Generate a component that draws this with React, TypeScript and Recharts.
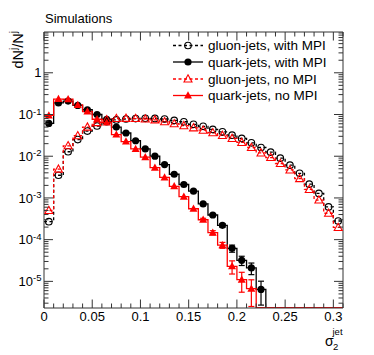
import React from 'react';
import { ComposedChart, Line, Scatter, XAxis, YAxis, ErrorBar, Legend } from 'recharts';

const W = 374;
const H = 355;
const PLOT = { left: 44, top: 32, right: 343, bottom: 308 };
const X_DOMAIN: [number, number] = [0, 0.31];
const Y_DOMAIN: [number, number] = [2.3e-6, 9.5];
const FONT = '"Liberation Sans", Arial, Helvetica, sans-serif';
const AXIS = '#333';
const RED = '#ff0000';

// bin width 0.01, centres of the 31 bins
const binWidth = 0.01;
const binCenters = [
  0.005, 0.015, 0.025, 0.035, 0.045, 0.055, 0.065, 0.075, 0.085, 0.095,
  0.105, 0.115, 0.125, 0.135, 0.145, 0.155, 0.165, 0.175, 0.185, 0.195,
  0.205, 0.215, 0.225, 0.235, 0.245, 0.255, 0.265, 0.275, 0.285, 0.295, 0.305,
];

const gluonWithMpi = [
  2.7e-4, 3.5e-3, 1.28e-2, 2.5e-2, 4.0e-2, 5.3e-2, 6.7e-2, 7.4e-2, 7.8e-2, 8.0e-2,
  8.1e-2, 8.05e-2, 7.8e-2, 7.2e-2, 6.7e-2, 5.8e-2, 5.2e-2, 4.4e-2, 3.85e-2, 3.2e-2,
  2.67e-2, 2.1e-2, 1.62e-2, 1.25e-2, 9.0e-3, 6.1e-3, 3.9e-3, 2.14e-3, 1.28e-3, 6.1e-4, 2.8e-4,
];
const quarkWithMpi = [
  0.061, 0.19, 0.21, 0.165, 0.13, 0.1, 0.077, 0.05, 0.036, 0.0235,
  0.015, 0.01, 0.0063, 0.0037, 0.0021, 0.00145, 7.2e-4, 3.9e-4, 2.2e-4, 6.2e-5,
  3.2e-5, 2.1e-5, 6.4e-6, 0, 0, 0, 0, 0, 0, 0, 0,
];
const gluonNoMpi = [
  5.0e-4, 4.9e-3, 1.78e-2, 3.1e-2, 5.0e-2, 6.4e-2, 7.5e-2, 8.0e-2, 8.1e-2, 8.0e-2,
  7.8e-2, 7.45e-2, 6.7e-2, 6.0e-2, 5.4e-2, 4.8e-2, 4.2e-2, 3.65e-2, 3.15e-2, 2.67e-2,
  2.14e-2, 1.62e-2, 1.2e-2, 9.3e-3, 6.7e-3, 4.7e-3, 2.9e-3, 1.6e-3, 8.9e-4, 4.3e-4, 1.96e-4,
];
const quarkNoMpi = [
  0.095, 0.235, 0.232, 0.17, 0.118, 0.077, 0.064, 0.033, 0.0225, 0.015,
  0.0095, 0.0053, 0.0031, 0.0019, 0.00107, 5.5e-4, 3.0e-4, 1.47e-4, 7.4e-5, 2.3e-5,
  1.1e-5, 6.7e-6, 0, 0, 0, 0, 0, 0, 0, 0, 0,
];
// statistical errors, only visible in the quark tails
const quarkWithMpiErr = [
  0, 0, 0, 0, 0, 0, 0, 0, 0, 0,
  0, 0, 0, 0, 0, 0, 4e-5, 3e-5, 2.2e-5, 1.2e-5,
  0.8e-5, 0.65e-5, 0.37e-5, 0, 0, 0, 0, 0, 0, 0, 0,
];
const quarkNoMpiErr = [
  0, 0, 0, 0, 0, 0, 0, 0, 0, 0,
  0, 0, 0, 0, 0, 0, 2.5e-5, 1.7e-5, 1.2e-5, 0.8e-5,
  0.55e-5, 0.42e-5, 0, 0, 0, 0, 0, 0, 0, 0, 0,
];

const xMajorTicks = [0, 0.05, 0.1, 0.15, 0.2, 0.25, 0.3];
const xTickLabels = ['0', '0.05', '0.1', '0.15', '0.2', '0.25', '0.3'];
const yMajorTicks = [1e-5, 1e-4, 1e-3, 1e-2, 1e-1, 1];
const yTickExponents = ['-5', '-4', '-3', '-2', '-1', ''];

const legendLabels = [
  'gluon-jets, with MPI',
  'quark-jets, with MPI',
  'gluon-jets, no MPI',
  'quark-jets, no MPI',
];

// minor + major tick positions
const xTicks = Array.from({ length: 32 }, (_, i) => i / 100);
const yTicks: number[] = [];
for (let d = -6; d <= 0; d++) {
  for (let n = 1; n <= 9; n++) {
    const v = n * Math.pow(10, d);
    if (v >= Y_DOMAIN[0] && v <= Y_DOMAIN[1]) yTicks.push(v);
  }
}

// histogram outline: points on the low bin edges, drawn with stepAfter.
// empty bins sit on the frame (floor) or just below it (clipped away)
const histLine = (vals: number[], floor: number) => {
  const pts = vals.map((v, i) => ({ x: binCenters[i] - binWidth / 2, y: v > 0 ? v : floor }));
  pts.push({ x: binCenters[vals.length - 1] + binWidth / 2, y: pts[pts.length - 1].y });
  return pts;
};
const markers = (vals: number[], errs?: number[]) =>
  vals
    .map((v, i) => ({ x: binCenters[i], y: v, err: errs ? errs[i] : 0 }))
    .filter((p) => p.y > 0);

const triPath = (cx: number, cy: number, s: number) =>
  `M${cx},${cy - s}L${cx + s * 0.95},${cy + s * 0.72}L${cx - s * 0.95},${cy + s * 0.72}Z`;

const OpenCircle = ({ cx, cy }: any) => (
  <circle cx={cx} cy={cy} r={3.3} fill="none" stroke="#000" strokeWidth={1.1} />
);
const FullCircle = ({ cx, cy }: any) => <circle cx={cx} cy={cy} r={3.6} fill="#000" />;
const OpenTriangle = ({ cx, cy }: any) => (
  <path d={triPath(cx, cy, 4.2)} fill="none" stroke={RED} strokeWidth={1.1} />
);
const FullTriangle = ({ cx, cy }: any) => <path d={triPath(cx, cy, 4.2)} fill={RED} />;

const isMajor = (list: number[], v: number) => list.findIndex((t) => Math.abs(t - v) <= t * 1e-6 + 1e-12);

function XTickBottom({ x, payload }: any) {
  const mi = isMajor(xMajorTicks, payload.value);
  const len = mi >= 0 ? 8.5 : 4.5;
  const y = PLOT.bottom;
  return (
    <g>
      <line x1={x} x2={x} y1={y} y2={y - len} stroke={AXIS} />
      {mi >= 0 && (
        <text x={x} y={y + 12.8} textAnchor="middle" fontFamily={FONT} fontSize={13} fill="#000">
          {xTickLabels[mi]}
        </text>
      )}
    </g>
  );
}
function XTickTop({ x, payload }: any) {
  const len = isMajor(xMajorTicks, payload.value) >= 0 ? 8.5 : 4.5;
  return <line x1={x} x2={x} y1={PLOT.top} y2={PLOT.top + len} stroke={AXIS} />;
}
function YTickLeft({ y, payload }: any) {
  const mi = isMajor(yMajorTicks, payload.value);
  const len = mi >= 0 ? 9 : 4.5;
  const x = PLOT.left;
  return (
    <g>
      <line x1={x} x2={x + len} y1={y} y2={y} stroke={AXIS} />
      {mi >= 0 && (
        <text x={x - 2.5} y={y + 4.6} textAnchor="end" fontFamily={FONT} fontSize={13} fill="#000">
          {yTickExponents[mi] === '' ? (
            '1'
          ) : (
            <>
              <tspan>10</tspan>
              <tspan dy={-4.5} fontSize={9.5}>
                {yTickExponents[mi]}
              </tspan>
            </>
          )}
        </text>
      )}
    </g>
  );
}
function YTickRight({ y, payload }: any) {
  const len = isMajor(yMajorTicks, payload.value) >= 0 ? 9 : 4.5;
  return <line x1={PLOT.right} x2={PLOT.right - len} y1={y} y2={y} stroke={AXIS} />;
}

function YTitle() {
  return (
    <text
      x={23}
      y={31}
      transform="rotate(-90, 23, 31)"
      textAnchor="end"
      fontFamily={FONT}
      fontSize={14.5}
      fill="#000"
    >
      <tspan>dN</tspan>
      <tspan dy={-6} fontSize={10}>j</tspan>
      <tspan dy={6}>/N</tspan>
      <tspan dy={-6} fontSize={10}>j</tspan>
    </text>
  );
}
function XTitle() {
  return (
    <g fontFamily={FONT} fill="#000">
      <text x={325} y={346} fontSize={14}>σ</text>
      <text x={333} y={349.5} fontSize={9.5}>2</text>
      <text x={332.5} y={334.5} fontSize={9.5}>jet</text>
    </g>
  );
}

const legendRows = [
  { y: 45.5, color: '#000', dash: '3 2.5', Marker: OpenCircle },
  { y: 62, color: '#000', dash: undefined, Marker: FullCircle },
  { y: 79, color: RED, dash: '3 2.5', Marker: OpenTriangle },
  { y: 95.5, color: RED, dash: undefined, Marker: FullTriangle },
];

function Overlay() {
  return (
    <svg width={W} height={H} style={{ display: 'block' }}>
      <text x={45} y={23.3} fontFamily={FONT} fontSize={13} fill="#000">
        Simulations
      </text>
      <YTitle />
      <XTitle />
      {legendRows.map((r, i) => (
        <g key={i}>
          <line x1={173} x2={203} y1={r.y} y2={r.y} stroke={r.color} strokeWidth={1.3} strokeDasharray={r.dash} />
          <r.Marker cx={188} cy={r.y} />
          <text x={208} y={r.y + 4.7} fontFamily={FONT} fontSize={13.5} fill="#000">
            {legendLabels[i]}
          </text>
        </g>
      ))}
    </svg>
  );
}

export default function App() {
  return (
    <div style={{ position: 'absolute', left: 0, top: 0, width: W, height: H, background: '#fff' }}>
      <ComposedChart
        width={W}
        height={H}
        margin={{ top: PLOT.top - 1, right: W - PLOT.right - 1, bottom: H - PLOT.bottom - 1, left: PLOT.left - 1 }}
      >
        <XAxis
          type="number"
          dataKey="x"
          domain={X_DOMAIN}
          allowDataOverflow
          ticks={xTicks}
          interval={0}
          tick={(p: any) => <XTickBottom {...p} />}
          tickLine={false}
          tickSize={0}
          tickMargin={0}
          axisLine={{ stroke: AXIS }}
          height={1}
        />
        <XAxis
          xAxisId="top"
          orientation="top"
          type="number"
          dataKey="x"
          domain={X_DOMAIN}
          allowDataOverflow
          ticks={xTicks}
          interval={0}
          tick={(p: any) => <XTickTop {...p} />}
          tickLine={false}
          tickSize={0}
          tickMargin={0}
          axisLine={{ stroke: AXIS }}
          height={1}
        />
        <YAxis
          type="number"
          dataKey="y"
          scale="log"
          domain={Y_DOMAIN}
          allowDataOverflow
          ticks={yTicks}
          interval={0}
          tick={(p: any) => <YTickLeft {...p} />}
          tickLine={false}
          tickSize={0}
          tickMargin={0}
          axisLine={{ stroke: AXIS }}
          width={1}
        />
        <YAxis
          yAxisId="right"
          orientation="right"
          type="number"
          dataKey="y"
          scale="log"
          domain={Y_DOMAIN}
          allowDataOverflow
          ticks={yTicks}
          interval={0}
          tick={(p: any) => <YTickRight {...p} />}
          tickLine={false}
          tickSize={0}
          tickMargin={0}
          axisLine={{ stroke: AXIS }}
          width={1}
        />

        <Line
          data={histLine(gluonWithMpi, Y_DOMAIN[0])}
          dataKey="y"
          type="stepAfter"
          stroke="#000"
          strokeWidth={1.3}
          strokeDasharray="3 2.5"
          dot={false}
          activeDot={false}
          isAnimationActive={false}
        />
        <Scatter data={markers(gluonWithMpi)} shape={OpenCircle} isAnimationActive={false} />

        <Line
          data={histLine(quarkWithMpi, 1e-7)}
          dataKey="y"
          type="stepAfter"
          stroke="#000"
          strokeWidth={1.3}
          dot={false}
          activeDot={false}
          isAnimationActive={false}
        />
        <Scatter data={markers(quarkWithMpi, quarkWithMpiErr)} shape={FullCircle} isAnimationActive={false}>
          <ErrorBar dataKey="err" direction="y" width={3} stroke="#000" strokeWidth={1.2} isAnimationActive={false} />
        </Scatter>

        <Line
          data={histLine(gluonNoMpi, Y_DOMAIN[0])}
          dataKey="y"
          type="stepAfter"
          stroke={RED}
          strokeWidth={1.3}
          strokeDasharray="3 2.5"
          dot={false}
          activeDot={false}
          isAnimationActive={false}
        />
        <Scatter data={markers(gluonNoMpi)} shape={OpenTriangle} isAnimationActive={false} />

        <Line
          data={histLine(quarkNoMpi, Y_DOMAIN[0] * 1.02)}
          dataKey="y"
          type="stepAfter"
          stroke={RED}
          strokeWidth={1.3}
          dot={false}
          activeDot={false}
          isAnimationActive={false}
        />
        <Scatter data={markers(quarkNoMpi, quarkNoMpiErr)} shape={FullTriangle} isAnimationActive={false}>
          <ErrorBar dataKey="err" direction="y" width={3} stroke={RED} strokeWidth={1.2} isAnimationActive={false} />
        </Scatter>

        <Legend
          layout="horizontal"
          verticalAlign="middle"
          align="center"
          wrapperStyle={{ left: 0, top: 0, width: W, height: H, pointerEvents: 'none' }}
          content={() => <Overlay />}
        />
      </ComposedChart>
    </div>
  );
}
